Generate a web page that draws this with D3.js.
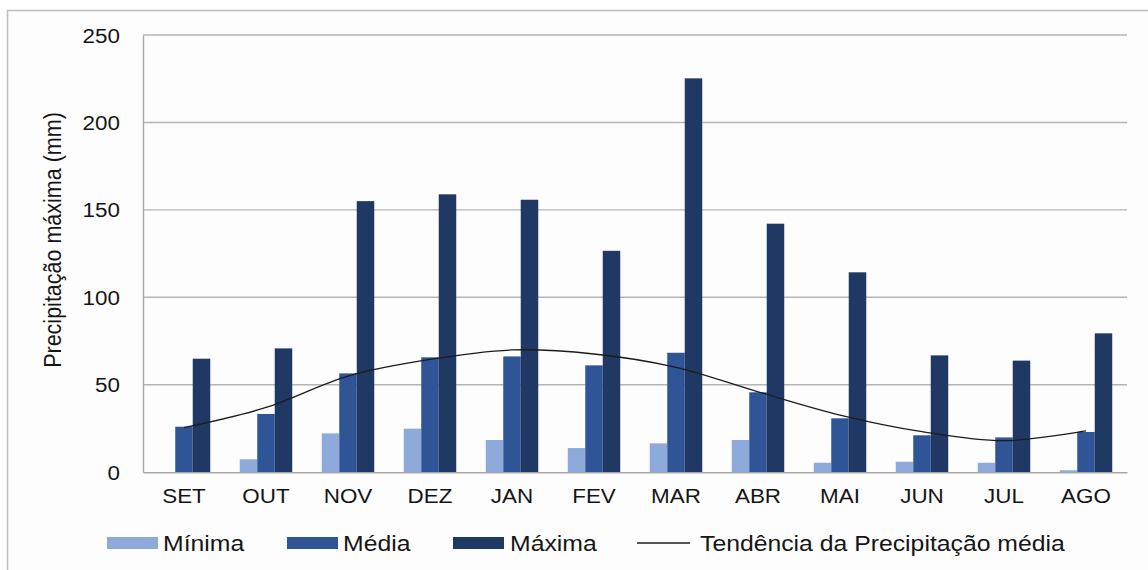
<!DOCTYPE html>
<html>
<head>
<meta charset="utf-8">
<script src="https://cdn.jsdelivr.net/npm/d3@7"></script>
<style>
  html, body { margin: 0; padding: 0; background: #ffffff; }
  svg { display: block; }
  text { font-family: "Liberation Sans", Arial, sans-serif; fill: #151515; }
</style>
</head>
<body>
<svg id="chart" width="1148" height="570"></svg>
<script>
// Monthly precipitation (mm), hydrological year SET–AGO
const months = ["SET", "OUT", "NOV", "DEZ", "JAN", "FEV", "MAR", "ABR", "MAI", "JUN", "JUL", "AGO"];
const minima = [0, 7.4, 22.2, 24.9, 18.4, 13.8, 16.5, 18.4, 5.4, 6.0, 5.4, 1.1];
const media  = [26.0, 33.3, 56.5, 65.7, 66.2, 61.1, 68.3, 45.7, 30.8, 21.1, 19.9, 23.0];
const maxima = [64.9, 70.8, 155.0, 158.9, 155.8, 126.6, 225.2, 142.1, 114.3, 66.8, 63.8, 79.4];
// Trend of the mean precipitation, read at each month
const tendencia = [25.5, 37.0, 55.0, 64.5, 69.9, 67.6, 60.0, 46.0, 32.7, 23.2, 18.0, 23.7];
const yTicks = [0, 50, 100, 150, 200, 250];

const seriesNames = ["Mínima", "Média", "Máxima"];
const seriesValues = [minima, media, maxima];
const colors = ["#8eaadb", "#2f5597", "#1f3864"];

const svg = d3.select("#chart");
const SX = 1.18, SY = 1.05;   // wide glyph proportions of the chart lettering

// Outer frame
svg.append("rect")
  .attr("x", 7.5).attr("y", 10.5).attr("width", 1160).attr("height", 580)
  .attr("fill", "#fdfdfd").attr("stroke", "#bdbdbd").attr("stroke-width", 1.5);

const plot = { left: 143, right: 1127, top: 35, bottom: 472.2 };

const x0 = d3.scaleBand().domain(months).range([plot.left, plot.right])
  .paddingInner(0.36).paddingOuter(0.18);
const x1 = d3.scaleBand().domain(seriesNames).range([0, x0.bandwidth()]);
const y = d3.scaleLinear().domain([0, 250]).range([plot.bottom, plot.top]);

// Horizontal gridlines
svg.append("g").selectAll("line").data(yTicks.filter(d => d > 0)).join("line")
  .attr("x1", plot.left).attr("x2", plot.right)
  .attr("y1", d => y(d)).attr("y2", d => y(d))
  .attr("stroke", "#b4b4b4").attr("stroke-width", 1.4);

// Y axis
const yAxis = svg.append("g")
  .attr("transform", `translate(${plot.left},0)`)
  .call(d3.axisLeft(y).tickValues(yTicks).tickSize(0).tickPadding(0));
yAxis.select(".domain").attr("stroke", "#a8a8a8").attr("stroke-width", 1.4);
yAxis.selectAll(".tick text").each(function () {
  const t = d3.select(this);
  const ty = +d3.select(this.parentNode).attr("transform").match(/,([\d.\-]+)/)[1];
  d3.select(this.parentNode).attr("transform", null);
  t.attr("x", 0).attr("y", 0).attr("dy", null)
    .attr("text-anchor", "end").attr("dominant-baseline", "central")
    .attr("font-size", 19)
    .attr("transform", `translate(${120 - plot.left},${ty}) scale(${SX},${SY})`);
});

// Bars
const groups = svg.append("g").selectAll("g").data(months).join("g")
  .attr("transform", d => `translate(${x0(d)},0)`);
groups.selectAll("rect")
  .data((m, i) => seriesNames.map((s, k) => ({ s, v: seriesValues[k][i], c: colors[k] })))
  .join("rect")
  .attr("x", d => x1(d.s))
  .attr("width", x1.bandwidth())
  .attr("y", d => y(d.v))
  .attr("height", d => y(0) - y(d.v))
  .attr("fill", d => d.c);

// X axis (baseline + month labels)
const xAxis = svg.append("g")
  .attr("transform", `translate(0,${plot.bottom})`)
  .call(d3.axisBottom(x0).tickSize(0).tickPadding(0));
xAxis.select(".domain").attr("stroke", "#a8a8a8").attr("stroke-width", 1.4);
xAxis.selectAll(".tick text")
  .attr("y", 0).attr("dy", null)
  .attr("font-size", 19)
  .attr("text-anchor", "middle")
  .attr("transform", `translate(0,31) scale(${SX},${SY})`);

// Trend line through the month centres
const line = d3.line()
  .x((d, i) => x0(months[i]) + x0.bandwidth() / 2)
  .y(d => y(d))
  .curve(d3.curveCatmullRom.alpha(0.5));
svg.append("path").datum(tendencia)
  .attr("d", line)
  .attr("fill", "none").attr("stroke", "#1c1c1c").attr("stroke-width", 1.3);

// Y axis title
svg.append("text")
  .attr("transform", `translate(61,240) scale(${SX},${SY}) rotate(-90)`)
  .attr("text-anchor", "middle")
  .attr("font-size", 20.5)
  .text("Precipitação máxima (mm)");

// Legend
const legendY = 543;
const legendItems = [
  { label: "Mínima", type: "rect", color: colors[0], x: 107, tx: 163 },
  { label: "Média", type: "rect", color: colors[1], x: 287, tx: 343 },
  { label: "Máxima", type: "rect", color: colors[2], x: 453, tx: 510 },
  { label: "Tendência da Precipitação média", type: "line", color: "#1c1c1c", x: 637, tx: 700 }
];
const lg = svg.append("g");
legendItems.forEach(it => {
  if (it.type === "rect") {
    lg.append("rect").attr("x", it.x).attr("y", legendY - 6).attr("width", 51).attr("height", 12)
      .attr("fill", it.color);
  } else {
    lg.append("line").attr("x1", it.x).attr("x2", it.x + 53)
      .attr("y1", legendY).attr("y2", legendY)
      .attr("stroke", it.color).attr("stroke-width", 1.3);
  }
  lg.append("text")
    .attr("transform", `translate(${it.tx},${legendY}) scale(${SX},${SY})`)
    .attr("dominant-baseline", "central")
    .attr("font-size", 21)
    .text(it.label);
});
</script>
</body>
</html>
